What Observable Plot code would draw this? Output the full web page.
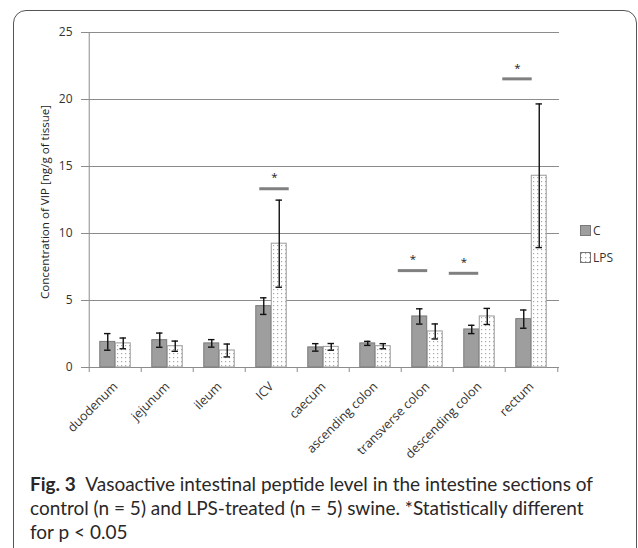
<!DOCTYPE html>
<html><head><meta charset="utf-8">
<script src="https://cdn.jsdelivr.net/npm/d3@7"></script>
<script src="https://cdn.jsdelivr.net/npm/@observablehq/plot@0.6"></script>
<style>
body{margin:0;background:#fff;}
#wrap{position:relative;width:638px;height:548px;overflow:hidden;background:#fff;font-family:"Open Sans",sans-serif;}
#frame{position:absolute;left:13px;top:10px;width:624px;height:600px;border:1.5px solid #555;border-radius:13px;box-sizing:border-box;}
#chart{position:absolute;left:0;top:0;}
#legend{position:absolute;left:580px;top:224px;font-size:12px;color:#333;line-height:13px;}
#legend .row{display:flex;align-items:center;height:13px;margin-bottom:14px;}
#legend svg{margin-right:2px;}
#caption{position:absolute;left:30px;top:472px;width:600px;font-family:"Liberation Sans Narrow","Lato",sans-serif;font-size:19px;line-height:24px;color:#2a2728;white-space:nowrap;}
</style></head>
<body><div id="wrap"><div id="frame"></div><div id="chart"></div>
<div id="legend"></div>
<div id="caption"></div></div>
<script>
// ---- data ----
const categories = ["duodenum","jejunum","ileum","ICV","caecum","ascending colon","transverse colon","descending colon","rectum"];
const seriesNames = ["C","LPS"];
const controlMean = [1.91,2.04,1.80,4.58,1.50,1.80,3.81,2.84,3.61];
const controlErr  = [0.62,0.53,0.28,0.62,0.28,0.15,0.57,0.31,0.68];
const lpsMean     = [1.80,1.59,1.27,9.24,1.54,1.59,2.69,3.81,14.31];
const lpsErr      = [0.40,0.38,0.48,3.25,0.25,0.19,0.56,0.60,5.36];
const yTicks = [0,5,10,15,20,25];
const sigCategories = ["ICV","transverse colon","descending colon","rectum"];
const sigLevels = [13.34,7.23,7.03,21.54];
const sigMark = "*";
const yLabel = "Concentration of VIP [ng/g of tissue]";
const captionBold = "Fig. 3";
const captionLines = ["Vasoactive intestinal peptide level in the intestine sections of",
  "control (n = 5) and LPS-treated (n = 5) swine. *Statistically different",
  "for p < 0.05"];

// ---- layout / style ----
const W = 638, H = 470;
const L = 86, R = 559, T = 32, B = 367;
const half = (R - L) / categories.length / 2;
const barW = 15.5;
const sigShift = [3, -14.5, -15.5, -14]; // hand-placed marker offsets (px)
const gridColor = "#8c8c8c";
const fillC = "#9e9e9e", strokeC = "#7a7a7a", strokeL = "#9a9a9a";

const rowsC = categories.map((c, i) => ({cat: c, v: controlMean[i], e: controlErr[i]}));
const rowsL = categories.map((c, i) => ({cat: c, v: lpsMean[i], e: lpsErr[i]}));
const sig = sigCategories.map((c, i) => ({cat: c, v: sigLevels[i]}));

function errMarks(rows, dx) {
  const o = {x: "cat", dx, stroke: "#111", strokeWidth: 1.4};
  return [
    Plot.ruleX(rows, {...o, y1: d => d.v - d.e, y2: d => d.v + d.e}),
    Plot.tickY(rows, {...o, y: d => d.v + d.e, insetLeft: half - 3.5, insetRight: half - 3.5}),
    Plot.tickY(rows, {...o, y: d => d.v - d.e, insetLeft: half - 3.5, insetRight: half - 3.5})
  ];
}

const sigMarks = sig.flatMap((s, i) => [
  Plot.tickY([s], {x: "cat", y: "v", dx: sigShift[i], insetLeft: half - 15, insetRight: half - 15, stroke: "#808080", strokeWidth: 3}),
  Plot.text([s], {x: "cat", y: "v", text: () => sigMark, dx: sigShift[i], dy: -11, fontSize: 11.5, fill: "#222"})
]);

const chart = Plot.plot({
  width: W, height: H,
  marginLeft: L, marginRight: W - R, marginTop: T, marginBottom: H - B,
  x: {domain: categories, padding: 0, label: null},
  y: {domain: [0, 25], label: null},
  style: {fontFamily: "Open Sans", fontSize: "11px", color: "#333", background: "transparent", overflow: "visible"},
  marks: [
    Plot.gridY(yTicks, {stroke: gridColor, strokeOpacity: 1, strokeWidth: 1}),
    Plot.axisY(yTicks, {tickSize: 5, tickPadding: 9, stroke: gridColor, fontSize: 12, fill: "#333", label: null}),
    Plot.ruleX([categories[0]], {dx: -half, y1: 0, y2: 25, stroke: gridColor}),
    Plot.ruleY([0], {stroke: gridColor}),
    Plot.axisX({tickSize: 5, dx: -half, text: null, stroke: gridColor, label: null}),
    Plot.axisX([categories[categories.length - 1]], {tickSize: 5, dx: half, text: null, stroke: gridColor, label: null}),
    Plot.axisX({tickSize: 0, tickRotate: -45, tickPadding: 17, fontSize: 12.5, fill: "#333", label: null}),
    Plot.barY(rowsC, {x: "cat", y: "v", insetLeft: half - barW, insetRight: half, fill: fillC, stroke: strokeC, strokeWidth: 1}),
    Plot.barY(rowsL, {x: "cat", y: "v", insetLeft: half, insetRight: half - barW, fill: "url(#dots)", stroke: strokeL, strokeWidth: 1}),
    ...errMarks(rowsC, -barW / 2),
    ...errMarks(rowsL, barW / 2),
    ...sigMarks,
    Plot.text([yLabel], {frameAnchor: "left", text: d => d, rotate: -90, textAnchor: "middle", dy: 2, dx: -41, fontSize: 11.6, fill: "#222"})
  ]
});

const ns = "http://www.w3.org/2000/svg";
function dotsPattern(svg, id) {
  const defs = document.createElementNS(ns, "defs");
  defs.innerHTML = `<pattern id="${id}" width="4" height="4" patternUnits="userSpaceOnUse">
    <rect width="4" height="4" fill="#fff"/><rect x="1" y="1" width="1.2" height="1.2" fill="#a8a8a8"/></pattern>`;
  svg.insertBefore(defs, svg.firstChild);
}
dotsPattern(chart, "dots");
document.getElementById("chart").appendChild(chart);

// legend
const legend = document.getElementById("legend");
seriesNames.forEach((name, i) => {
  const row = document.createElement("div");
  row.className = "row";
  const sw = document.createElementNS(ns, "svg");
  sw.setAttribute("width", 11); sw.setAttribute("height", 11);
  if (i === 0) {
    sw.innerHTML = `<rect x="0.5" y="0.5" width="10" height="10" fill="${fillC}" stroke="${strokeC}"/>`;
  } else {
    dotsPattern(sw, "dotsL");
    sw.innerHTML += `<rect x="0.5" y="0.5" width="10" height="10" fill="url(#dotsL)" stroke="#777"/>`;
  }
  row.appendChild(sw);
  const t = document.createElement("span");
  t.textContent = name;
  row.appendChild(t);
  legend.appendChild(row);
});

// caption
const cap = document.getElementById("caption");
const b = document.createElement("b");
b.textContent = captionBold;
cap.appendChild(b);
cap.appendChild(document.createTextNode("\u2002" + captionLines[0]));
captionLines.slice(1).forEach(line => {
  cap.appendChild(document.createElement("br"));
  cap.appendChild(document.createTextNode(line));
});
</script>
</body></html>
